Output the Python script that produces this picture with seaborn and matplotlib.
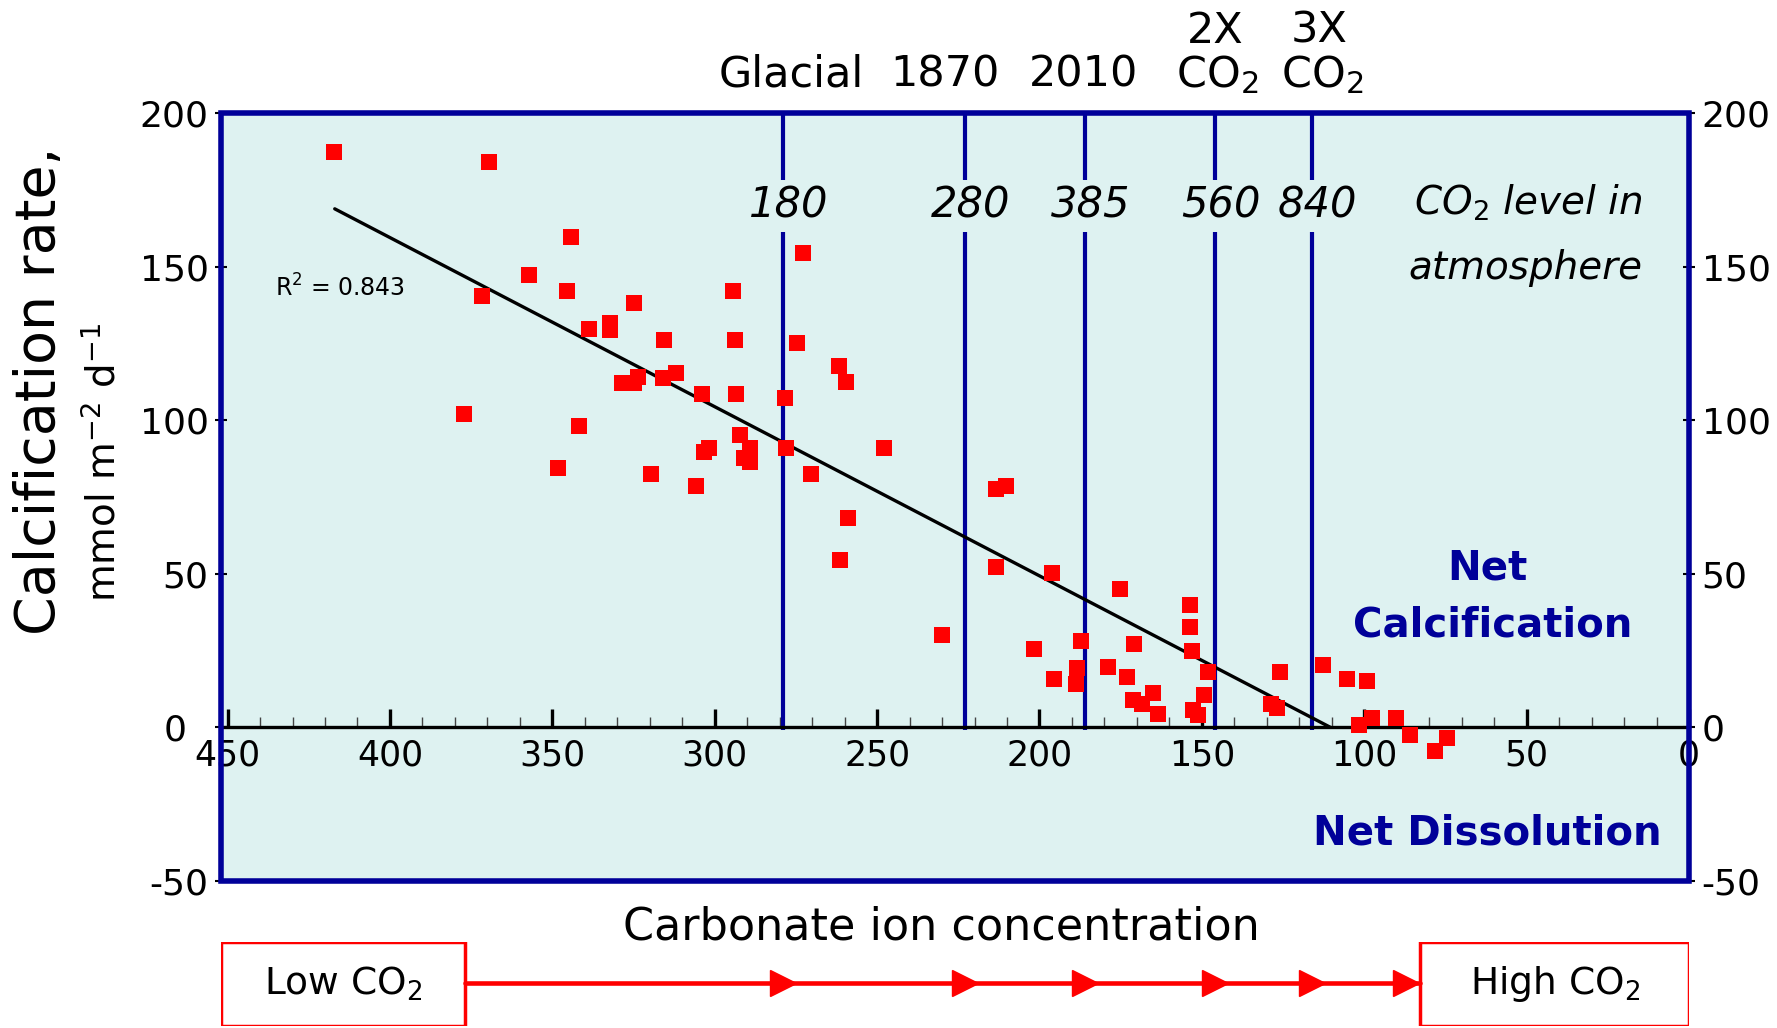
import matplotlib
matplotlib.use("Agg")
import matplotlib.pyplot as plt
from matplotlib.patches import Rectangle
from matplotlib.ticker import MultipleLocator
from matplotlib.transforms import ScaledTranslation
import numpy as np
import pandas as pd
import seaborn as sns

NAVY = "#000099"
BG = "#DEF2F1"
RED = "#FF0000"

# carbonate ion concentration vs calcification rate
carbonate = [417.3, 369.5, 344.3, 357.2, 345.4, 371.6, 324.8, 338.7, 332.3, 332.3,
             315.7, 328.7, 325.0, 323.7, 315.8, 311.9, 303.9, 377.2, 341.9, 303.3,
             301.9, 348.2, 319.5, 305.8, 272.8, 294.3, 293.8, 274.7, 261.8, 259.5,
             293.3, 278.4, 292.3, 289.0, 291.0, 289.0, 278.1, 248.0, 270.4, 213.4,
             210.3, 259.0, 261.5, 213.3, 196.0, 175.1, 153.6, 153.6, 153.1, 229.9,
             201.7, 187.1, 170.8, 188.6, 178.8, 195.5, 188.9, 173.1, 148.2, 165.0,
             171.2, 168.5, 163.4, 149.3, 152.6, 151.2, 125.9, 128.6, 126.8, 112.6,
             105.4, 99.2, 97.7, 101.7, 90.3, 85.9, 74.4, 78.3]
calcification = [187.4, 184.2, 159.6, 147.3, 142.0, 140.3, 138.3, 129.8, 131.7, 129.5,
                 126.0, 112.2, 112.2, 114.2, 113.7, 115.4, 108.5, 101.9, 98.1, 89.6,
                 91.1, 84.5, 82.5, 78.7, 154.4, 142.0, 126.0, 125.0, 117.5, 112.3,
                 108.5, 107.2, 95.3, 91.0, 87.7, 86.4, 91.0, 91.0, 82.5, 77.7,
                 78.6, 68.3, 54.6, 52.3, 50.4, 45.2, 40.0, 32.8, 24.9, 30.0,
                 25.4, 28.2, 27.2, 19.2, 19.6, 15.9, 14.1, 16.4, 17.9, 11.2,
                 8.8, 7.5, 4.2, 10.7, 5.5, 4.0, 17.9, 7.5, 6.4, 20.2,
                 15.9, 15.0, 3.1, 0.7, 3.1, -2.5, -3.5, -7.7]

# linear trendline end points
trend_x = [417.0, 110.4]
trend_y = [168.8, 0.0]
r_squared = 0.843

# CO2 scenarios
co2_carbonate = [279, 223, 186, 146, 116]
co2_ppm = ["180", "280", "385", "560", "840"]
era_top = ["", "", "", "2X", "3X"]
era_bottom = ["Glacial", "1870", "2010", "CO$_2$", "CO$_2$"]
era_shift = [6, -14, -1, 2, 7]

x_ticks = [450, 400, 350, 300, 250, 200, 150, 100, 50, 0]
y_ticks = [-50, 0, 50, 100, 150, 200]

df = pd.DataFrame({"carbonate": carbonate, "calcification": calcification})
trend = pd.DataFrame({"x": trend_x, "y": trend_y})

sns.set_style("white")
plt.rcParams["font.family"] = ["DejaVu Sans"]
plt.rcParams["mathtext.fontset"] = "dejavusans"
plt.rcParams["axes.unicode_minus"] = False
for key in ["text.color", "axes.labelcolor", "xtick.color", "ytick.color"]:
    plt.rcParams[key] = "black"

fig = plt.figure(figsize=(17.77, 10.28), dpi=100, facecolor="white")
ax = fig.add_axes([0.1244, 0.143, 0.8261, 0.7471])
ax.set_facecolor(BG)

sns.lineplot(data=trend, x="x", y="y", ax=ax, color="black", linewidth=2.4, sort=False, zorder=3)
sns.scatterplot(data=df, x="carbonate", y="calcification", ax=ax, color=RED, marker="s",
                s=120, linewidth=0, zorder=4)

# vertical CO2 lines, with the ppm labels sitting in a gap
ax.vlines(co2_carbonate, -1, 200, color=NAVY, linewidth=3, zorder=2)
for xv, lab in zip(co2_carbonate, co2_ppm):
    ax.annotate(lab, (xv, 169.8), xytext=(4, 0), textcoords="offset points",
                ha="center", va="center", fontsize=30, style="italic",
                bbox=dict(boxstyle="square,pad=0.12", fc=BG, ec="none"), zorder=5)

xtr = ax.get_xaxis_transform()
for xv, top, bot, dx in zip(co2_carbonate, era_top, era_bottom, era_shift):
    ax.annotate(bot, (xv, 1.05), xycoords=xtr, xytext=(dx, 0), textcoords="offset points",
                ha="center", va="center", fontsize=31, annotation_clip=False)
    if top:
        ax.annotate(top, (xv, 1.107), xycoords=xtr, xytext=(dx - 2, 0), textcoords="offset points",
                    ha="center", va="center", fontsize=31, annotation_clip=False)

ax.text(435.5, 143.1, f"R$^2$ = {r_squared}", fontsize=17, va="center", ha="left")
ax.text(49.5, 170.7, "CO$_2$ level in", fontsize=28, style="italic", ha="center", va="center")
ax.text(50.3, 149.6, "atmosphere", fontsize=28, style="italic", ha="center", va="center")
ax.text(62, 51.7, "Net", fontsize=29, fontweight="bold", color=NAVY, ha="center", va="center")
ax.text(60.5, 33.2, "Calcification", fontsize=29, fontweight="bold", color=NAVY, ha="center", va="center")
ax.text(62, -34.5, "Net Dissolution", fontsize=29, fontweight="bold", color=NAVY, ha="center", va="center")

ax.set_xlim(452, 0)
ax.set_ylim(-50, 200)
ax.set_xticks(x_ticks)
ax.set_yticks(y_ticks)
ax.xaxis.set_minor_locator(MultipleLocator(10))
ax.set_xlabel("")
ax.set_ylabel("")

for side in ["left", "right", "top"]:
    ax.spines[side].set_visible(False)
ax.spines["bottom"].set_position(("data", 0))
ax.spines["bottom"].set_color("black")
ax.spines["bottom"].set_linewidth(2.4)
ax.spines["bottom"].set_zorder(2.5)

ax.tick_params(axis="x", which="major", direction="in", length=13, width=2.4,
               labelsize=25, pad=8, bottom=True)
ax.tick_params(axis="x", which="minor", direction="in", length=7, width=1, color="#444444", bottom=True)
ax.tick_params(axis="y", direction="inout", length=8, width=1.5, labelsize=26,
               left=True, right=True, labelleft=True, labelright=True, pad=5)

# the left "0" sits a little further out so it clears the "450"
zero_tick = ax.yaxis.get_major_ticks()[y_ticks.index(0)]
zero_tick.label1.set_transform(zero_tick.label1.get_transform()
                               + ScaledTranslation(-16 / 72, 0, fig.dpi_scale_trans))

ax.add_patch(Rectangle((0, 0), 1, 1, transform=ax.transAxes, fill=False,
                       ec=NAVY, lw=4, clip_on=False, zorder=6))

fig.text(0.0225, 0.6196, "Calcification rate,", rotation=90, fontsize=40, ha="center", va="center")
fig.text(0.0585, 0.5506, "mmol m$^{-2}$ d$^{-1}$", rotation=90, fontsize=28, ha="center", va="center")
fig.text(0.5295, 0.0983, "Carbonate ion concentration", fontsize=32, ha="center", va="center")

# low -> high CO2 arrow strip
ax2 = fig.add_axes([0.1244, 0.002, 0.8261, 0.082])
ax2.set_xlim(ax.get_xlim())
ax2.set_ylim(0, 1)
ax2.axis("off")
ax2.add_patch(Rectangle((0, 0), 0.166, 1, transform=ax2.transAxes, fill=False, ec=RED, lw=2.5))
ax2.add_patch(Rectangle((0.817, 0), 0.183, 1, transform=ax2.transAxes, fill=False, ec=RED, lw=2.5))
ax2.plot([0.166, 0.817], [0.51, 0.51], transform=ax2.transAxes, color=RED, lw=3.3)
ax2.plot(co2_carbonate, [0.51] * len(co2_carbonate), ls="none", marker=">", ms=19, color=RED)
ax2.plot([0.807], [0.51], transform=ax2.transAxes, ls="none", marker=">", ms=19, color=RED)
ax2.text(0.083, 0.5, "Low CO$_2$", transform=ax2.transAxes, fontsize=27, ha="center", va="center")
ax2.text(0.9085, 0.5, "High CO$_2$", transform=ax2.transAxes, fontsize=27, ha="center", va="center")

fig.savefig("out.png", dpi=100, facecolor="white")
